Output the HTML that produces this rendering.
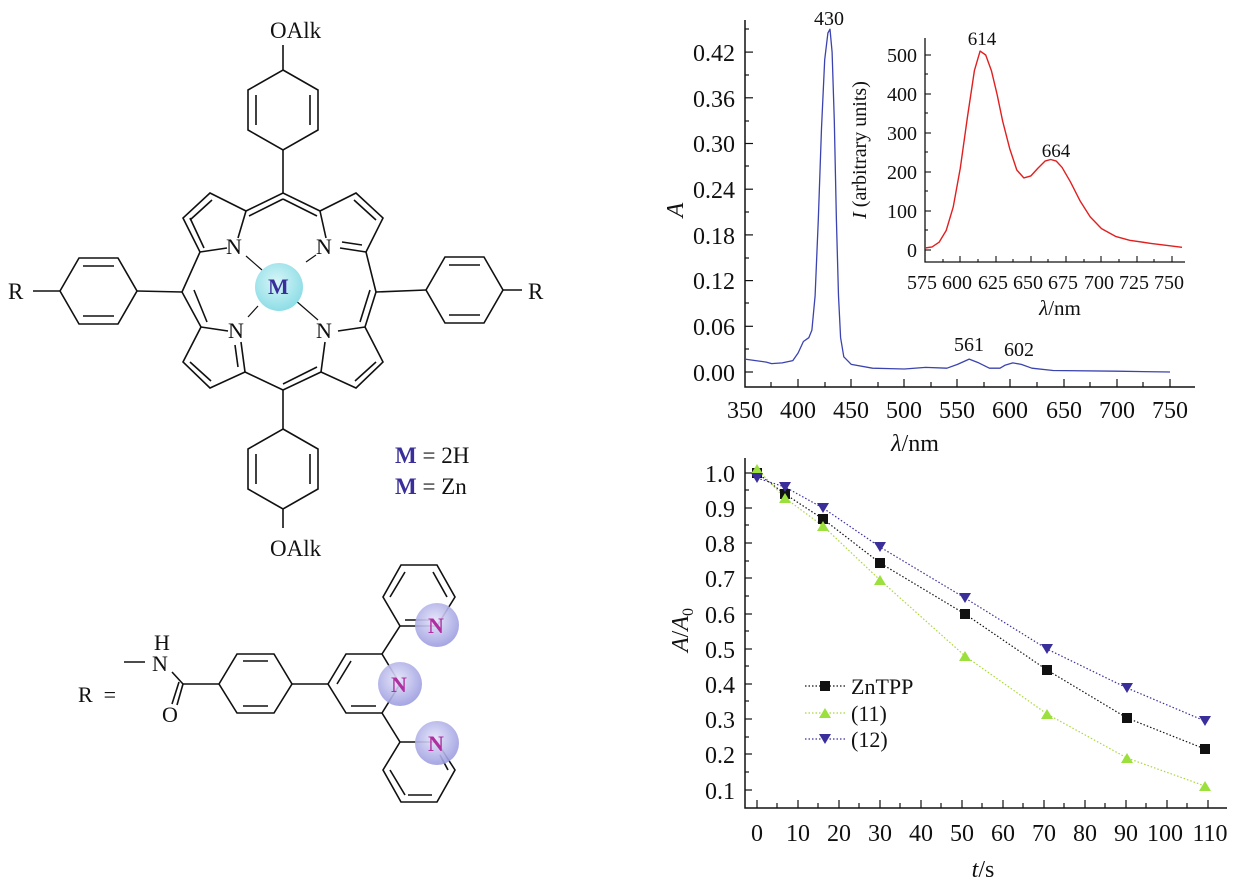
<!DOCTYPE html>
<html><head><meta charset="utf-8"><style>
html,body{margin:0;padding:0;background:#fff}
svg{display:block}
text{font-family:"Liberation Serif",serif;fill:#111}
</style></head><body>
<svg width="1239" height="886" viewBox="0 0 1239 886" xmlns="http://www.w3.org/2000/svg">
<defs>
<radialGradient id="gm" cx="45%" cy="40%" r="60%"><stop offset="0" stop-color="#d8f6f8"/><stop offset="1" stop-color="#8edde6"/></radialGradient>
<radialGradient id="gn" cx="45%" cy="40%" r="60%"><stop offset="0" stop-color="#e4e4fa"/><stop offset="1" stop-color="#9c9ce0"/></radialGradient>
</defs>
<!-- ========== Porphyrin ========== -->
<g stroke="#111" stroke-width="1.6" fill="none">
<polygon points="283,70 318,90 318,130 283,150 248,130 248,90"/>
<line x1="256" y1="95" x2="256" y2="125"/><line x1="310" y1="95" x2="310" y2="125"/>
<line x1="283" y1="45" x2="283" y2="70"/><line x1="283" y1="150" x2="283" y2="193"/>
<polygon points="283,429 318,449 318,489 283,509 248,489 248,449"/>
<line x1="256" y1="454" x2="256" y2="484"/><line x1="310" y1="454" x2="310" y2="484"/>
<line x1="283" y1="390" x2="283" y2="429"/><line x1="283" y1="509" x2="283" y2="528"/>
<polygon points="60,291 79,258 118,258 137,291 118,324 79,324"/>
<line x1="83" y1="266" x2="114" y2="266"/><line x1="83" y1="316" x2="114" y2="316"/>
<line x1="33" y1="291" x2="60" y2="291"/><line x1="137" y1="291" x2="182" y2="292"/>
<polygon points="426,290 445,257 484,257 503,290 484,323 445,323"/>
<line x1="449" y1="265" x2="480" y2="265"/><line x1="449" y1="315" x2="480" y2="315"/>
<line x1="503" y1="290" x2="522" y2="290"/><line x1="376" y1="292" x2="426" y2="290"/>
<polyline points="245,372 283,390 321,372"/>
<polyline points="246,211 283,193 320,211"/>
<line x1="283" y1="199" x2="249" y2="216"/><line x1="283" y1="199" x2="317" y2="216"/>
<line x1="283" y1="384" x2="317" y2="367"/>
<polyline points="246,211 210,193 183,218 200,252 182,292 201,327"/>
<line x1="246" y1="211" x2="238" y2="238"/><line x1="200" y1="252" x2="227" y2="248"/>
<line x1="212" y1="200" x2="190" y2="220"/><line x1="190" y1="218" x2="204" y2="248"/>
<line x1="194" y1="290" x2="207" y2="322"/>
<polyline points="201,327 183,362 210,388 245,372"/>
<line x1="201" y1="327" x2="228" y2="331"/><line x1="245" y1="372" x2="241" y2="342"/>
<line x1="190" y1="362" x2="211" y2="381"/><line x1="238" y1="367" x2="235" y2="345"/>
<polyline points="320,211 356,193 383,218 366,252 376,292 365,327"/>
<line x1="320" y1="211" x2="326" y2="238"/><line x1="366" y1="252" x2="340" y2="248"/>
<line x1="354" y1="200" x2="376" y2="220"/><line x1="362" y1="245" x2="342" y2="242"/>
<line x1="370" y1="290" x2="360" y2="322"/>
<polyline points="365,327 383,362 356,388 321,372"/>
<line x1="365" y1="327" x2="338" y2="331"/><line x1="321" y1="372" x2="325" y2="342"/>
<line x1="376" y1="362" x2="355" y2="381"/>
<line x1="246" y1="256" x2="262" y2="270" stroke-width="1.2"/>
<line x1="306" y1="262" x2="316" y2="255" stroke-width="1.2"/>
<line x1="258" y1="306" x2="248" y2="317" stroke-width="1.2"/>
<line x1="295" y1="300" x2="318" y2="320" stroke-width="1.2"/>
</g>
<circle cx="279" cy="287" r="24" fill="url(#gm)"/>
<g font-size="22">
<text x="226" y="254">N</text><text x="316" y="254">N</text>
<text x="228" y="338">N</text><text x="316" y="338">N</text>
<text x="268" y="294" font-weight="bold" style="fill:#3a2f9a">M</text>
<text x="270" y="38" font-size="23">OAlk</text>
<text x="270" y="556" font-size="23">OAlk</text>
<text x="8" y="299" font-size="23">R</text>
<text x="528" y="299" font-size="23">R</text>
<text x="395" y="463" font-size="23"><tspan font-weight="bold" style="fill:#3a2f9a">M</tspan> = 2H</text>
<text x="395" y="494" font-size="23"><tspan font-weight="bold" style="fill:#3a2f9a">M</tspan> = Zn</text>
</g>
<!-- ========== R group ========== -->
<g stroke="#111" stroke-width="1.6" fill="none">
<line x1="124" y1="662" x2="145" y2="662"/>
<line x1="172" y1="672" x2="183" y2="684"/>
<line x1="183" y1="684" x2="177" y2="705"/><line x1="179" y1="682" x2="172" y2="704"/>
<line x1="183" y1="684" x2="219" y2="684"/>
<polygon points="219,684 237,654 274,654 292,684 274,713 237,713"/>
<line x1="243" y1="661" x2="268" y2="661"/><line x1="243" y1="706" x2="268" y2="706"/>
<line x1="292" y1="684" x2="328" y2="684"/>
<polygon points="328,684 346,654 382,654 400,684 382,713 346,713"/>
<line x1="337" y1="684" x2="351" y2="661"/><line x1="351" y1="706" x2="376" y2="706"/>
<line x1="382" y1="654" x2="400" y2="626"/><line x1="382" y1="713" x2="400" y2="742"/>
<polygon points="400,626 437,626 455,597 437,565 401,565 383,597"/>
<line x1="405" y1="620" x2="430" y2="620"/><line x1="390" y1="597" x2="405" y2="572"/><line x1="433" y1="572" x2="447" y2="597"/>
<polygon points="400,742 437,742 455,770 437,802 401,802 383,770"/>
<line x1="390" y1="770" x2="405" y2="795"/><line x1="408" y1="795" x2="432" y2="795"/><line x1="440" y1="755" x2="448" y2="770"/>
</g>
<circle cx="437" cy="625" r="22" fill="url(#gn)" opacity="0.9"/>
<circle cx="400" cy="684" r="22" fill="url(#gn)" opacity="0.9"/>
<circle cx="437" cy="743" r="22" fill="url(#gn)" opacity="0.9"/>
<g font-size="22" font-weight="bold">
<text x="428" y="633" style="fill:#b02ea0">N</text>
<text x="391" y="692" style="fill:#b02ea0">N</text>
<text x="428" y="751" style="fill:#b02ea0">N</text>
</g>
<g font-size="22">
<text x="78" y="702">R&#160;&#160;=</text>
<text x="154" y="650">H</text><text x="152" y="671">N</text><text x="162" y="722">O</text>
</g>
<!-- ========== Top chart ========== -->
<g stroke="#111" stroke-width="1.5" fill="none">
<polyline points="745,20 745,387 1195,387"/>
</g>
<g stroke="#111" stroke-width="1.2">
<line x1="745" y1="372" x2="753" y2="372"/><line x1="745" y1="326.3" x2="753" y2="326.3"/><line x1="745" y1="280.6" x2="753" y2="280.6"/><line x1="745" y1="234.9" x2="753" y2="234.9"/><line x1="745" y1="189.2" x2="753" y2="189.2"/><line x1="745" y1="143.5" x2="753" y2="143.5"/><line x1="745" y1="97.8" x2="753" y2="97.8"/><line x1="745" y1="52.1" x2="753" y2="52.1"/>
<line x1="745" y1="349" x2="749" y2="349"/><line x1="745" y1="303" x2="749" y2="303"/><line x1="745" y1="258" x2="749" y2="258"/><line x1="745" y1="212" x2="749" y2="212"/><line x1="745" y1="166" x2="749" y2="166"/><line x1="745" y1="121" x2="749" y2="121"/><line x1="745" y1="75" x2="749" y2="75"/><line x1="745" y1="29" x2="749" y2="29"/>
<line x1="798" y1="387" x2="798" y2="379"/><line x1="851" y1="387" x2="851" y2="379"/><line x1="904" y1="387" x2="904" y2="379"/><line x1="957" y1="387" x2="957" y2="379"/><line x1="1010" y1="387" x2="1010" y2="379"/><line x1="1064" y1="387" x2="1064" y2="379"/><line x1="1117" y1="387" x2="1117" y2="379"/><line x1="1170" y1="387" x2="1170" y2="379"/>
<line x1="771" y1="387" x2="771" y2="382"/><line x1="825" y1="387" x2="825" y2="382"/><line x1="878" y1="387" x2="878" y2="382"/><line x1="931" y1="387" x2="931" y2="382"/><line x1="984" y1="387" x2="984" y2="382"/><line x1="1037" y1="387" x2="1037" y2="382"/><line x1="1090" y1="387" x2="1090" y2="382"/><line x1="1143" y1="387" x2="1143" y2="382"/>
</g>
<g font-size="24" text-anchor="end">
<text x="735" y="381">0.00</text><text x="735" y="335">0.06</text><text x="735" y="289">0.12</text><text x="735" y="244">0.18</text><text x="735" y="198">0.24</text><text x="735" y="152">0.30</text><text x="735" y="107">0.36</text><text x="735" y="61">0.42</text>
</g>
<g font-size="24" text-anchor="middle">
<text x="745" y="418">350</text><text x="798" y="418">400</text><text x="851" y="418">450</text><text x="904" y="418">500</text><text x="957" y="418">550</text><text x="1010" y="418">600</text><text x="1064" y="418">650</text><text x="1117" y="418">700</text><text x="1170" y="418">750</text>
<text x="915" y="451"><tspan font-style="italic">λ</tspan>/nm</text>
<text x="829" y="25" font-size="20">430</text><text x="969" y="351" font-size="20">561</text><text x="1019" y="356" font-size="20">602</text>
</g>
<text x="683" y="210" font-size="24" font-style="italic" transform="rotate(-90 683 210)" text-anchor="middle">A</text>
<polyline fill="none" stroke="#3b43b0" stroke-width="1.3" stroke-linejoin="round" points="745,359.1 755.6,360.6 766.3,362.1 771.6,363.6 782.2,362.9 792.8,360.6 798.1,353 803.4,341.5 808.8,337.7 811.9,330.1 815.1,295.8 818.3,219.7 821.5,128.3 824.7,59.7 827.9,33 830,29.2 832.1,52.1 834.3,120.6 836.4,219.7 838.5,295.8 840.6,337.7 843.8,356.8 851.3,364.4 872.5,368.2 904.4,369 925.6,367.4 946.9,368.2 957.5,364.4 969.2,359.1 978.8,362.9 989.4,368.2 1000,368.2 1005.3,365.1 1012.8,362.9 1021.3,364.4 1031.9,368.2 1053.1,370.5 1116.9,371.2 1170,372"/>
<!-- inset -->
<g stroke="#111" stroke-width="1.3" fill="none">
<polyline points="925,38 925,262 1185,262"/>
</g>
<g stroke="#111" stroke-width="1.1">
<line x1="925" y1="250" x2="931" y2="250"/><line x1="925" y1="211" x2="931" y2="211"/><line x1="925" y1="172" x2="931" y2="172"/><line x1="925" y1="133" x2="931" y2="133"/><line x1="925" y1="94" x2="931" y2="94"/><line x1="925" y1="55" x2="931" y2="55"/>
<line x1="925" y1="230" x2="928" y2="230"/><line x1="925" y1="191" x2="928" y2="191"/><line x1="925" y1="152" x2="928" y2="152"/><line x1="925" y1="113" x2="928" y2="113"/><line x1="925" y1="74" x2="928" y2="74"/>
<line x1="960" y1="262" x2="960" y2="256"/><line x1="996" y1="262" x2="996" y2="256"/><line x1="1031" y1="262" x2="1031" y2="256"/><line x1="1066" y1="262" x2="1066" y2="256"/><line x1="1101" y1="262" x2="1101" y2="256"/><line x1="1137" y1="262" x2="1137" y2="256"/><line x1="1172" y1="262" x2="1172" y2="256"/>
<line x1="943" y1="262" x2="943" y2="259"/><line x1="978" y1="262" x2="978" y2="259"/><line x1="1013" y1="262" x2="1013" y2="259"/><line x1="1048" y1="262" x2="1048" y2="259"/><line x1="1084" y1="262" x2="1084" y2="259"/><line x1="1119" y1="262" x2="1119" y2="259"/><line x1="1154" y1="262" x2="1154" y2="259"/>
</g>
<g font-size="20" text-anchor="end">
<text x="917" y="257">0</text><text x="917" y="218">100</text><text x="917" y="179">200</text><text x="917" y="140">300</text><text x="917" y="101">400</text><text x="917" y="62">500</text>
</g>
<g font-size="20" text-anchor="middle">
<text x="922" y="289">575</text><text x="957" y="289">600</text><text x="993" y="289">625</text><text x="1028" y="289">650</text><text x="1063" y="289">675</text><text x="1099" y="289">700</text><text x="1134" y="289">725</text><text x="1169" y="289">750</text>
<text x="1060" y="315" font-size="21"><tspan font-style="italic">λ</tspan>/nm</text>
<text x="982" y="45" font-size="19">614</text><text x="1056" y="157" font-size="19">664</text>
</g>
<text x="866" y="150" font-size="20" transform="rotate(-90 866 150)" text-anchor="middle"><tspan font-style="italic">I</tspan> (arbitrary units)</text>
<polyline fill="none" stroke="#e02020" stroke-width="1.4" stroke-linejoin="round" points="925,248 932.1,246.9 939.1,242.2 946.2,230.5 953.2,207.1 960.3,168.1 967.4,117.4 974.4,70.6 980.1,51.1 985.7,55 991.4,70.6 997,94 1002.7,121.3 1009.7,148.6 1016.8,170 1023.8,177.9 1030.9,175.9 1038,168.1 1045,161.1 1050.7,159.5 1056.3,161.1 1062,167.3 1070.4,181.8 1080.3,201.3 1090.2,216.9 1101.5,228.6 1115.6,236.4 1129.7,240.3 1150.9,243.4 1172.1,246.1 1182,247.3"/>
<!-- ========== Bottom chart ========== -->
<g stroke="#111" stroke-width="1.5" fill="none"><polyline points="745,458 745,808 1227,808"/></g>
<g stroke="#111" stroke-width="1.2">
<line x1="745" y1="473" x2="752" y2="473"/><line x1="745" y1="508" x2="752" y2="508"/><line x1="745" y1="543" x2="752" y2="543"/><line x1="745" y1="578" x2="752" y2="578"/><line x1="745" y1="614" x2="752" y2="614"/><line x1="745" y1="649" x2="752" y2="649"/><line x1="745" y1="684" x2="752" y2="684"/><line x1="745" y1="719" x2="752" y2="719"/><line x1="745" y1="754" x2="752" y2="754"/><line x1="745" y1="790" x2="752" y2="790"/>
<line x1="745" y1="490" x2="749" y2="490"/><line x1="745" y1="525" x2="749" y2="525"/><line x1="745" y1="561" x2="749" y2="561"/><line x1="745" y1="596" x2="749" y2="596"/><line x1="745" y1="631" x2="749" y2="631"/><line x1="745" y1="666" x2="749" y2="666"/><line x1="745" y1="701" x2="749" y2="701"/><line x1="745" y1="737" x2="749" y2="737"/><line x1="745" y1="772" x2="749" y2="772"/>
<line x1="757" y1="808" x2="757" y2="800"/><line x1="798" y1="808" x2="798" y2="800"/><line x1="839" y1="808" x2="839" y2="800"/><line x1="880" y1="808" x2="880" y2="800"/><line x1="921" y1="808" x2="921" y2="800"/><line x1="962" y1="808" x2="962" y2="800"/><line x1="1003" y1="808" x2="1003" y2="800"/><line x1="1044" y1="808" x2="1044" y2="800"/><line x1="1085" y1="808" x2="1085" y2="800"/><line x1="1126" y1="808" x2="1126" y2="800"/><line x1="1167" y1="808" x2="1167" y2="800"/><line x1="1208" y1="808" x2="1208" y2="800"/>
<line x1="777" y1="808" x2="777" y2="803"/><line x1="818" y1="808" x2="818" y2="803"/><line x1="859" y1="808" x2="859" y2="803"/><line x1="900" y1="808" x2="900" y2="803"/><line x1="941" y1="808" x2="941" y2="803"/><line x1="982" y1="808" x2="982" y2="803"/><line x1="1023" y1="808" x2="1023" y2="803"/><line x1="1064" y1="808" x2="1064" y2="803"/><line x1="1105" y1="808" x2="1105" y2="803"/><line x1="1146" y1="808" x2="1146" y2="803"/><line x1="1187" y1="808" x2="1187" y2="803"/>
</g>
<g font-size="24" text-anchor="end">
<text x="735" y="482">1.0</text><text x="735" y="517">0.9</text><text x="735" y="552">0.8</text><text x="735" y="587">0.7</text><text x="735" y="623">0.6</text><text x="735" y="658">0.5</text><text x="735" y="693">0.4</text><text x="735" y="728">0.3</text><text x="735" y="763">0.2</text><text x="735" y="799">0.1</text>
</g>
<g font-size="24" text-anchor="middle">
<text x="757" y="841">0</text><text x="798" y="841">10</text><text x="839" y="841">20</text><text x="880" y="841">30</text><text x="921" y="841">40</text><text x="962" y="841">50</text><text x="1003" y="841">60</text><text x="1044" y="841">70</text><text x="1085" y="841">80</text><text x="1126" y="841">90</text><text x="1165" y="841">100</text><text x="1210" y="841">110</text>
<text x="983" y="877"><tspan font-style="italic">t</tspan>/s</text>
</g>
<text x="688" y="630" font-size="24" transform="rotate(-90 688 630)" text-anchor="middle"><tspan font-style="italic">A</tspan>/<tspan font-style="italic">A</tspan><tspan font-size="16" dy="5">0</tspan></text>
<g fill="none" stroke-width="1.2" stroke-dasharray="1.5,2">
<polyline stroke="#111" points="757,473 785,494 823,519 880,563 965,614 1047,670 1127,718 1205,749"/>
<polyline stroke="#a8d83a" points="757,469 785,498 823,526 880,580 965,656 1047,714 1127,758 1205,786"/>
<polyline stroke="#3a2f9a" points="757,478 785,487 823,508 880,547 965,598 1047,649 1127,688 1205,721"/>
<line x1="805" y1="686" x2="846" y2="686" stroke="#111"/><line x1="805" y1="713" x2="846" y2="713" stroke="#a8d83a"/><line x1="805" y1="739" x2="846" y2="739" stroke="#3a2f9a"/>
</g>
<g fill="#111">
<rect x="752" y="468" width="10" height="10"/><rect x="780" y="489" width="10" height="10"/><rect x="818" y="514" width="10" height="10"/><rect x="875" y="558" width="10" height="10"/><rect x="960" y="609" width="10" height="10"/><rect x="1042" y="665" width="10" height="10"/><rect x="1122" y="713" width="10" height="10"/><rect x="1200" y="744" width="10" height="10"/><rect x="820" y="681" width="10" height="10"/>
</g>
<g fill="#9be03c">
<path d="M757,464l6,10h-12z M785,493l6,10h-12z M823,521l6,10h-12z M880,575l6,10h-12z M965,651l6,10h-12z M1047,709l6,10h-12z M1127,753l6,10h-12z M1205,781l6,10h-12z M825,708l6,10h-12z"/>
</g>
<g fill="#3a2f9a">
<path d="M757,483l6,-10h-12z M785,492l6,-10h-12z M823,513l6,-10h-12z M880,552l6,-10h-12z M965,603l6,-10h-12z M1047,654l6,-10h-12z M1127,693l6,-10h-12z M1205,726l6,-10h-12z M825,744l6,-10h-12z"/>
</g>
<g font-size="22">
<text x="851" y="694">ZnTPP</text><text x="851" y="721">(11)</text><text x="851" y="747">(12)</text>
</g>
</svg>
</body></html>
